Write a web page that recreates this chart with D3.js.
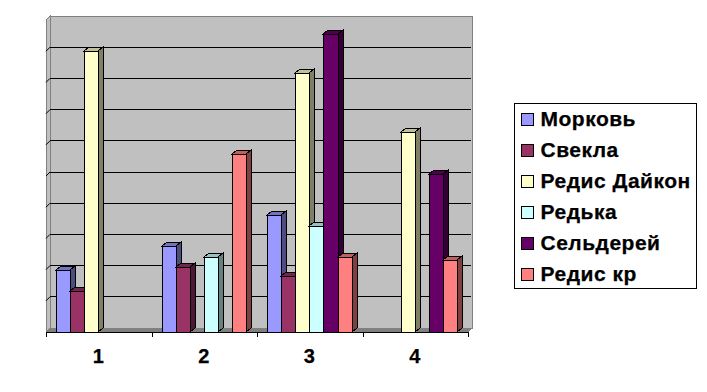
<!DOCTYPE html>
<html><head><meta charset="utf-8">
<script src="https://cdn.jsdelivr.net/npm/d3@7"></script>
<style>html,body{margin:0;padding:0;background:#fff}svg{display:block}text{font-family:"Liberation Sans",Arial,sans-serif;font-weight:bold;fill:#000;stroke:#000;stroke-width:.25px}</style>
</head><body><script>
const categories = ["1","2","3","4"];
const seriesNames = ["Морковь","Свекла","Редис Дайкон","Редька","Сельдерей","Редис кр"];
const carrot = [2.0,2.75,3.75,null];
const beet = [1.3,2.08,1.8,null];
const daikon = [9.0,null,8.3,6.4];
const radish = [null,2.4,3.4,null];
const celery = [null,null,9.55,5.05];
const redRadish = [null,5.7,2.4,2.3];
const seriesValues = [carrot,beet,daikon,radish,celery,redRadish];
const colors = ["#9999FF","#993366","#FFFFCC","#CCFFFF","#660066","#FF8080"];

const W=707,H=392;
const left=46,right=468,base=332,top0=20,dx=4,dy=4,bdx=5,bdy=4;
const svg=d3.select("body").append("svg").attr("width",W).attr("height",H);
const crisp=svg.append("g").attr("shape-rendering","crispEdges");
const x=d3.scaleBand().domain(categories).range([left,right]);
const xTick=d3.scaleLinear().domain([0,categories.length]).range([left,right]);
const xs=d3.scaleBand().domain(seriesNames).range([10,10+14.1*seriesNames.length]);
const y=d3.scaleLinear().domain([0,10]).range([base,top0]);
const pts=a=>a.map(p=>p.join(",")).join(" ");
const shade=(c,k)=>{const r=d3.rgb(c);return d3.rgb(r.r*k,r.g*k,r.b*k).formatHex();};

// walls
crisp.append("polygon").attr("points",pts([[left,y(10)],[left+dx,y(10)-dy],[left+dx,base-dy],[left,base]])).attr("fill","#c0c0c0").attr("stroke","#808080");
crisp.append("rect").attr("x",left+dx).attr("y",y(10)-dy).attr("width",right-left).attr("height",base-y(10)).attr("fill","#c0c0c0").attr("stroke","#808080");
crisp.append("polygon").attr("points",pts([[left,base],[left+dx,base-dy],[right+dx,base-dy],[right,base]])).attr("fill","#808080");
// grid
const gridV=d3.range(1,10);
crisp.selectAll("line.g").data(gridV).join("line").attr("class","g")
 .attr("x1",left+dx).attr("x2",right+dx-1).attr("y1",d=>y(d)-dy).attr("y2",d=>y(d)-dy).attr("stroke","#000");
svg.selectAll("line.w").data(gridV).join("line").attr("class","w")
 .attr("x1",left).attr("x2",left+dx).attr("y1",d=>y(d)).attr("y2",d=>y(d)-dy).attr("stroke","#000");
// bars
categories.forEach((c,i)=>{
 seriesNames.forEach((s,j)=>{
  const v=seriesValues[j][i]; if(v==null) return;
  const x0=Math.round(x(c)+xs(s)), x1=Math.round(x(c)+xs(s)+xs.bandwidth()), t=Math.round(y(v));
  const g=crisp.append("g").attr("stroke","#000");
  g.append("polygon").attr("points",pts([[x1,t],[x1+bdx,t-bdy],[x1+bdx,base-bdy],[x1,base]])).attr("fill",shade(colors[j],0.5));
  g.append("polygon").attr("points",pts([[x0,t],[x0+bdx,t-bdy],[x1+bdx,t-bdy],[x1,t]])).attr("fill",shade(colors[j],0.75));
  g.append("rect").attr("x",x0).attr("y",t).attr("width",x1-x0).attr("height",base-t).attr("fill",colors[j]);
 });
});
// bottom axis
const axis=svg.append("g").attr("transform",`translate(0,${base})`).attr("shape-rendering","crispEdges")
 .call(d3.axisBottom(xTick).tickValues(d3.range(categories.length+1)).tickSize(5).tickSizeOuter(0).tickFormat(""));
axis.selectAll("path,line").attr("stroke","#000");
svg.selectAll("text.c").data(categories).join("text").attr("class","c")
 .attr("x",d=>x(d)+x.bandwidth()/2-0.5).attr("y",363).attr("text-anchor","middle").attr("font-size",20).text(d=>d);
// legend
const lx=514.5,ly=103.5,lw=182,lh=185,step=31;
crisp.append("rect").attr("x",lx).attr("y",ly).attr("width",lw).attr("height",lh).attr("fill","#fff").attr("stroke","#000");
const ly0=d3.scaleLinear().domain([0,1]).range([ly+16,ly+16+step]);
crisp.selectAll("rect.sw").data(seriesNames).join("rect").attr("class","sw")
 .attr("x",lx+7).attr("y",(d,i)=>Math.round(ly0(i)-6.5)+0.5).attr("width",12).attr("height",12)
 .attr("fill",(d,i)=>colors[i]).attr("stroke","#000");
svg.selectAll("text.l").data(seriesNames).join("text").attr("class","l")
 .attr("x",lx+26).attr("y",(d,i)=>ly0(i)+6.5).attr("font-size",21).attr("letter-spacing",0.5).text(d=>d);
</script></body></html>
